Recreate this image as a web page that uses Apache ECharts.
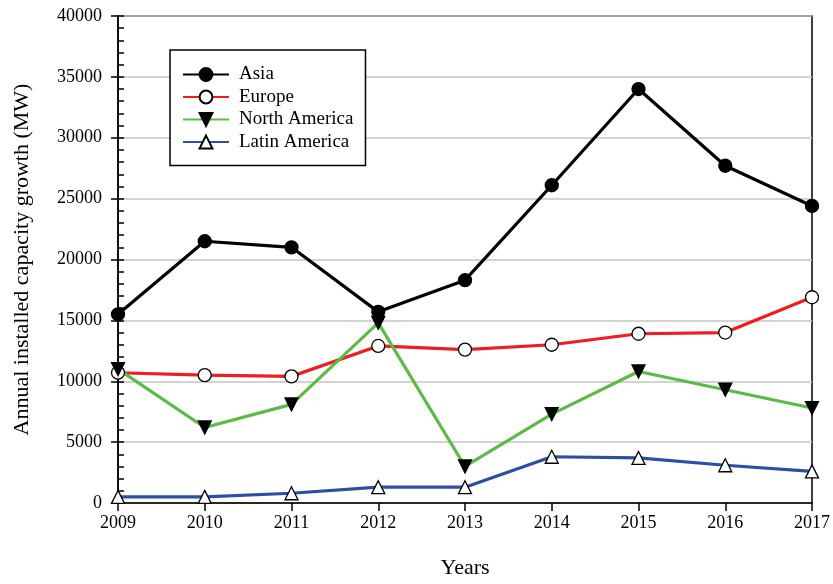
<!DOCTYPE html>
<html>
<head>
<meta charset="utf-8">
<script src="https://cdn.jsdelivr.net/npm/echarts@6/dist/echarts.min.js"></script>
<style>html,body{margin:0;padding:0;background:#fff}#c{width:833px;height:584px}</style>
</head>
<body>
<div id="c"></div>
<script>
var years = ['2009','2010','2011','2012','2013','2014','2015','2016','2017'];
var asia = [15500, 21500, 21000, 15700, 18300, 26100, 34000, 27700, 24400];
var europe = [10700, 10500, 10400, 12900, 12600, 13000, 13900, 14000, 16900];
var northAmerica = [11000, 6200, 8100, 14800, 3000, 7300, 10800, 9300, 7800];
var latinAmerica = [500, 500, 800, 1300, 1300, 3800, 3700, 3100, 2600];
var yTicks = [0, 5000, 10000, 15000, 20000, 25000, 30000, 35000, 40000];

var font = 'Liberation Serif, Times New Roman, serif';
var chart = echarts.init(document.getElementById('c'));
function mk(name, data, color, symbol, fill, rot) {
  return {
    name: name, type: 'line', data: data, yAxisIndex: 0,
    symbol: symbol, symbolSize: 13, symbolRotate: rot || 0,
    lineStyle: { color: color, width: 3.2 },
    itemStyle: { color: fill, borderColor: '#000', borderWidth: 1.3 },
    color: color,
    z: 3
  };
}
chart.setOption({
  animation: false,
  textStyle: { fontFamily: font },
  grid: { left: 118, right: 20, top: 16, bottom: 81, show: true, borderColor: '#000', borderWidth: 1.5, backgroundColor: 'transparent' },
  legend: {
    orient: 'vertical', left: 170, top: 50,
    itemWidth: 46, itemHeight: 16, itemGap: 3.5,
    padding: [15, 12, 14, 12],
    borderColor: '#000', borderWidth: 1.5, backgroundColor: '#fff',
    textStyle: { fontFamily: font, fontSize: 19, lineHeight: 19, color: '#000', padding: [0, 0, 0, 5] },
    data: ['Asia', 'Europe', 'North America', 'Latin America']
  },
  xAxis: {
    type: 'category', data: years, boundaryGap: false,
    name: 'Years', nameLocation: 'middle', nameGap: 54,
    nameTextStyle: { fontFamily: font, fontSize: 22, color: '#000' },
    axisLine: { lineStyle: { color: '#000', width: 1.5 } },
    axisTick: { show: true, inside: false, length: 8, lineStyle: { color: '#000', width: 1.5 } },
    axisLabel: { fontFamily: font, fontSize: 18, color: '#000', margin: 11 },
    splitLine: { show: false }
  },
  yAxis: [{
    type: 'value', min: 0, max: 40000, interval: 5000,
    name: 'Annual installed capacity growth (MW)', nameLocation: 'middle', nameGap: 85,
    nameTextStyle: { fontFamily: font, fontSize: 22, color: '#000' },
    axisLine: { show: true, lineStyle: { color: '#000', width: 1.5 } },
    axisTick: { show: true, inside: false, length: 7, lineStyle: { color: '#000', width: 1.5 } },
    axisLabel: { fontFamily: font, fontSize: 18, color: '#000', margin: 16,
      formatter: function (v) { return yTicks.indexOf(v) >= 0 ? String(v) : ''; } },
    splitLine: { show: true, lineStyle: { color: '#c4c4c4', width: 1.5 } }
  }, {
    type: 'value', min: 0, max: 40000, interval: 1000, position: 'left',
    axisLine: { show: false },
    axisTick: { show: true, inside: true, length: 6, lineStyle: { color: '#000', width: 1.5 } },
    axisLabel: { show: false },
    splitLine: { show: false }
  }],
  series: [
    mk('Asia', asia, '#000000', 'circle', '#000000'),
    mk('Europe', europe, '#ee1c25', 'circle', '#ffffff'),
    mk('North America', northAmerica, '#5bbb46', 'triangle', '#000000', 180),
    mk('Latin America', latinAmerica, '#2e4ea3', 'triangle', '#ffffff')
  ]
});
</script>
</body>
</html>
